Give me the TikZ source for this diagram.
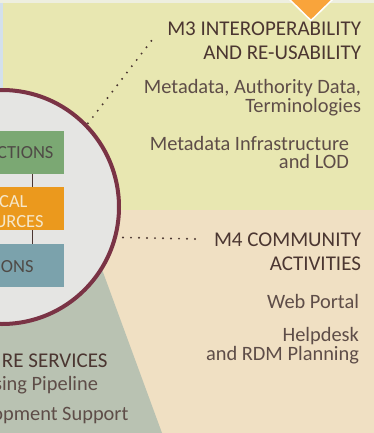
\documentclass[tikz,border=0pt]{standalone}
\usepackage{fontspec}
\setmainfont{Carlito}
\definecolor{topc}{HTML}{EEEFE0}
\definecolor{yel}{HTML}{E8E7B1}
\definecolor{blu}{HTML}{D3E0EC}
\definecolor{beig}{HTML}{F0E0C3}
\definecolor{gry}{HTML}{B9C2B2}
\definecolor{orng}{HTML}{F9A43B}
\definecolor{circf}{HTML}{E5E5E3}
\definecolor{maroon}{HTML}{7A3345}
\definecolor{grn}{HTML}{7BA873}
\definecolor{obox}{HTML}{EB991D}
\definecolor{bbox}{HTML}{7BA2AC}
\definecolor{hdr}{HTML}{4B3631}
\definecolor{bdy}{HTML}{5E4D48}
\definecolor{boxt}{HTML}{4F4A46}
\definecolor{boxl}{HTML}{F6E7C9}
\begin{document}
\begin{tikzpicture}[x=1pt,y=-1pt,
  every node/.style={inner sep=0pt,outer sep=0pt},
  hd/.style={anchor=base east,text=hdr,font=\fontsize{21}{24}\selectfont},
  bd/.style={anchor=base east,text=bdy,font=\fontsize{20.4}{22}\selectfont},
  bx/.style={rectangle,minimum width=124pt,minimum height=43pt},
  bxt/.style={anchor=base east,font=\fontsize{18.5}{20}\selectfont},
  conn/.style={draw=hdr,line width=1pt},
  dots/.style={draw=hdr,line width=2.2pt,line cap=round,dash pattern=on 0pt off 8pt}]
\useasboundingbox (0,0) rectangle (374,433);
\clip (0,0) rectangle (374,433);
% backgrounds
\fill[topc] (0,0) rectangle (374,4);
\fill[yel] (0,3.5) rectangle (374,209.5);
\fill[blu] (0,3.5) rectangle (2.5,100);
\fill[beig] (0,209.5) rectangle (374,433);
\fill[gry] (0,209.5) -- (80,209.5) -- (162,433) -- (0,433) -- cycle;
\filldraw[fill=orng,draw=white,line width=1.5pt] (287,-3) -- (311,20.5) -- (335,-3) -- cycle;
% circle
\node[circle,minimum size=234pt,draw=maroon,line width=4pt,fill=circf] (circ) at (2,207) {};
% boxes
\node[bx,fill=grn] (coll) at (2,152.5) {};
\node[bx,fill=obox] (tech) at (2,208.5) {};
\node[bx,fill=bbox] (pub) at (2,265.5) {};
\draw[conn] ([xshift=30pt]coll.south) -- ([xshift=30pt]tech.north);
\draw[conn] ([xshift=30pt]tech.south) -- ([xshift=30pt]pub.north);
\node[bxt,text=boxt] (t1) at (53.5,158) {CTIONS};
\node[bxt,text=boxl] (t2) at (27.5,207) {CAL};
\node[bxt,text=boxl] (t3) at (43.5,227) {URCES};
\node[bxt,text=boxt] (t4) at (33.5,272) {ONS};
% M3
\node[hd] (m3a) at (361,36) {M3 INTEROPERABILITY};
\node[hd] (m3b) at (361,60) {AND RE-USABILITY};
\node[bd] (m3c) at (361,94) {Metadata, Authority Data,};
\node[bd] (m3d) at (361,113) {Terminologies};
\node[bd] (m3e) at (349,150) {Metadata Infrastructure};
\node[bd] (m3f) at (349,168.5) {and LOD};
% M4
\node[hd] (m4a) at (361,246) {M4 COMMUNITY};
\node[hd] (m4b) at (361,270) {ACTIVITIES};
\node[bd] (m4c) at (359,308.5) {Web Portal};
\node[bd] (m4d) at (359,341) {Helpdesk};
\node[bd] (m4e) at (359,360) {and RDM Planning};
% bottom left
\node[hd] (s1) at (107.5,367) {RE SERVICES};
\node[bd] (s2) at (98,390) {sing Pipeline};
\node[bd] (s3) at (128.5,420) {opment Support};
% dotted connectors
\coordinate (d1) at (152,40);
\coordinate (d2) at (197,239);
\draw[dots,shorten <=3pt] (circ.44) -- (d1);
\draw[dots,shorten <=8pt] (circ.-15.9) -- (d2);
\end{tikzpicture}
\end{document}
